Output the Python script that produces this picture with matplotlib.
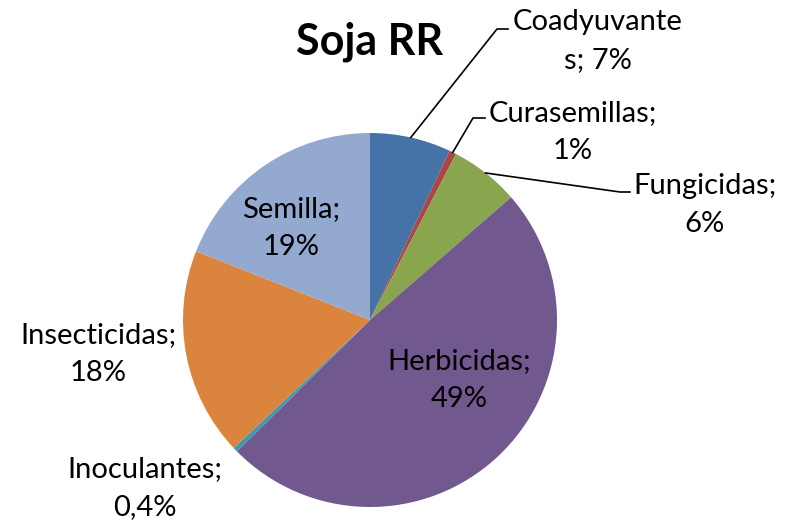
import matplotlib
matplotlib.use("Agg")
import matplotlib.pyplot as plt
import numpy as np

categories = ["Coadyuvantes", "Curasemillas", "Fungicidas", "Herbicidas",
              "Inoculantes", "Insecticidas", "Semilla"]
values = [7.0, 0.6, 6.0, 49.0, 0.4, 18.0, 19.0]
label_texts = ["Coadyuvante\ns; 7%", "Curasemillas;\n1%", "Fungicidas;\n6%",
               "Herbicidas;\n49%", "Inoculantes;\n0,4%", "Insecticidas;\n18%",
               "Semilla;\n19%"]
colors = ["#4572A7", "#AA4643", "#89A54E", "#71588F", "#4198AF", "#DB843D", "#93A9CF"]

W, H = 797, 522
CX, CY, R = 370, 320, 187
fig = plt.figure(figsize=(W / 100, H / 100), dpi=100)
ax = fig.add_axes([(CX - R) / W, (H - CY - R) / H, 2 * R / W, 2 * R / H])

wedges, _ = ax.pie(values, colors=colors, startangle=90, counterclock=False,
                   radius=1, wedgeprops=dict(linewidth=0))
ax.set_xlim(-1, 1)
ax.set_ylim(-1, 1)
ax.set_aspect("equal")
ax.axis("off")

def px(x, y):
    return (x - CX) / R, (CY - y) / R

font = "Lato"
fs = 21
label_pos = [(598, 41), (573, 132), (705, 205), (459, 380), (145, 488), (98, 354), (291, 228)]
for txt, (x, y) in zip(label_texts, label_pos):
    dx, dy = px(x, y)
    ax.text(dx, dy, txt, ha="center", va="center", multialignment="center",
            fontsize=fs, family=font, linespacing=1.55, clip_on=False)

# leader lines: start on wedge edge at mid-angle, end near text
leaders = {0: [(497, 29), (508, 29)], 1: [(473, 118), (485, 118)], 2: [(620, 192), (630, 192)]}
for i, pts in leaders.items():
    w = wedges[i]
    mid = np.deg2rad((w.theta1 + w.theta2) / 2)
    sx, sy = np.cos(mid) * 1.0, np.sin(mid) * 1.0
    xs = [sx] + [px(*p)[0] for p in pts]
    ys = [sy] + [px(*p)[1] for p in pts]
    ax.plot(xs, ys, color="black", linewidth=1.2, clip_on=False)

fig.text(370 / W, 1 - 42 / H, "Soja RR", ha="center", va="center",
         fontsize=31, fontweight="bold", family=font)

fig.savefig("out.png", dpi=100)
